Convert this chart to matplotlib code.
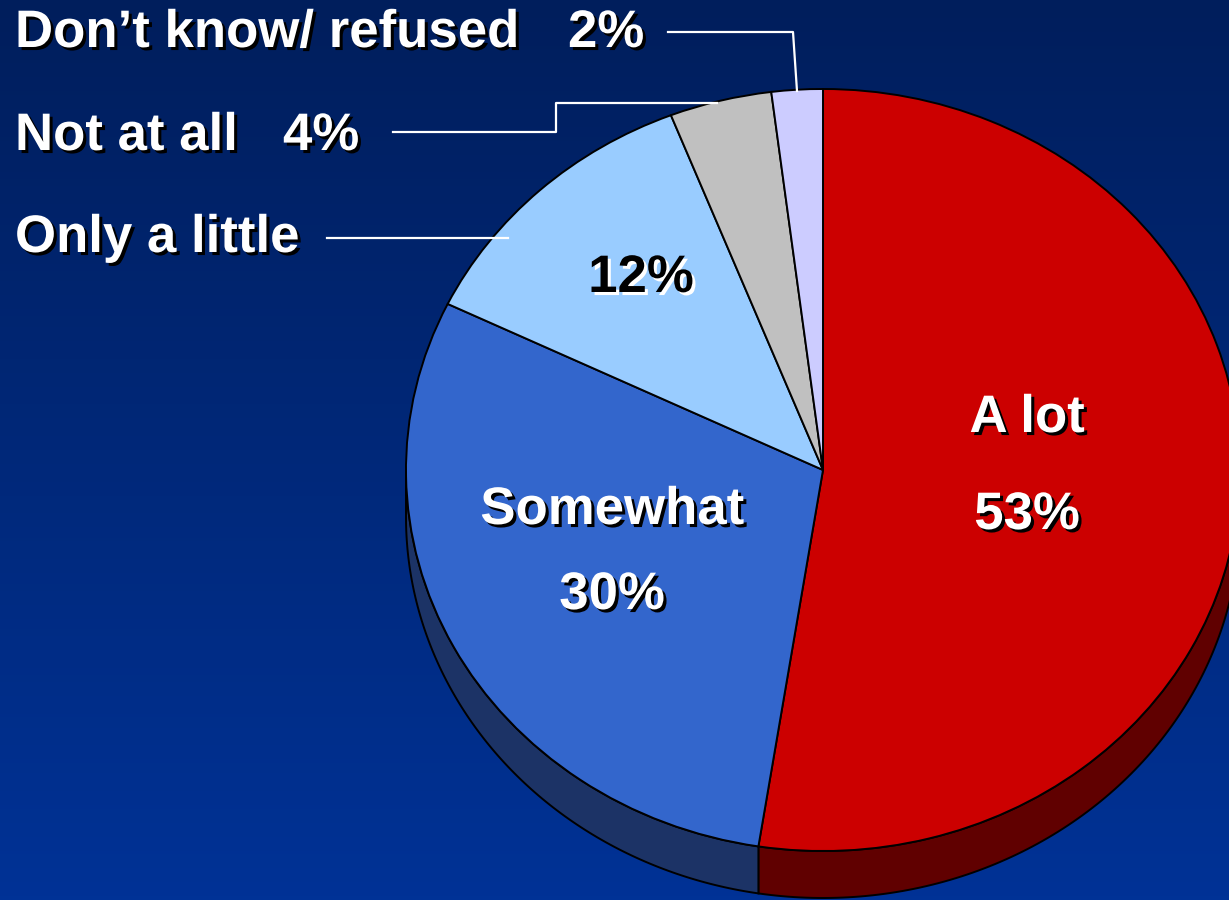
import matplotlib
matplotlib.use("Agg")
import matplotlib.pyplot as plt
import matplotlib.patheffects as pe
import numpy as np

labels = ["A lot", "Somewhat", "Only a little", "Not at all", "Don\u2019t know/ refused"]
values = [53, 30, 12, 4, 2]
top_colors = ["#CC0000", "#3366CC", "#99CCFF", "#C0C0C0", "#CCCCFF"]
side_colors = ["#600000", "#1C3366", "#5A7AA0", "#707070", "#7070A0"]

W, H = 1229, 900
CX, CY, RX, RY = 823, 470, 417, 381   # pie centre / radii in pixels
DEPTH = 47 / RY                        # thickness of the 3d rim in data units

plt.rcParams["font.family"] = ["Liberation Sans", "DejaVu Sans"]

fig = plt.figure(figsize=(W / 100, H / 100), dpi=100)
ax = fig.add_axes([0, 0, 1, 1])


def px(x, y):
    # image pixel (top-left origin) -> data coords of the unit pie
    return (x - CX) / RX, (CY - y) / RY


x0, y1 = px(0, 0)
x1, y0 = px(W, H)

# background gradient
grad = np.linspace(0, 1, 256).reshape(-1, 1)
top = np.array([0, 30, 92]) / 255
bot = np.array([0, 50, 150]) / 255
img = top + (bot - top) * grad[..., None]
ax.imshow(img, extent=[x0, x1, y0, y1], aspect="auto", zorder=0)

# top face
wedges, _ = ax.pie(values, colors=top_colors, startangle=90, counterclock=False,
                   radius=1, center=(0, 0),
                   wedgeprops=dict(edgecolor="black", linewidth=1.4))
for w in wedges:
    w.set_zorder(3)

# rim (only the lower half is visible)
for w, c in zip(wedges, side_colors):
    a, b = w.theta1 % 360, w.theta2 % 360
    if b <= a:
        b += 360
    lo, hi = max(a, 180), min(b, 360)
    if hi <= lo:
        continue
    t = np.radians(np.linspace(lo, hi, 120))
    xs = np.concatenate([np.cos(t), np.cos(t[::-1])])
    ys = np.concatenate([np.sin(t), np.sin(t[::-1]) - DEPTH])
    ax.fill(xs, ys, facecolor=c, edgecolor="black", linewidth=1.4, zorder=2)

ax.set_aspect("auto")
ax.set_xlim(x0, x1)
ax.set_ylim(y0, y1)
ax.axis("off")

shadow_dark = [pe.SimplePatchShadow(offset=(2.2, -2.2), shadow_rgbFace="black", alpha=1), pe.Normal()]
shadow_light = [pe.SimplePatchShadow(offset=(2.2, -2.2), shadow_rgbFace="white", alpha=1), pe.Normal()]
fs = 38


def label(x, y, s, ha="left", color="white", effects=shadow_dark):
    ax.text(*px(x, y), s, ha=ha, va="center", fontsize=fs, fontweight="bold",
            color=color, path_effects=effects, zorder=5)


# outside labels
label(15, 33, labels[4])
label(568, 33, f"{values[4]}%")
label(15, 136, labels[3])
label(283, 136, f"{values[3]}%")
label(15, 238, labels[2])

# leader lines
lw = 1.6
ax.plot(*zip(px(668, 32), px(793, 32), px(797, 91)), color="white", lw=lw, zorder=4)
ax.plot(*zip(px(393, 132), px(556, 132), px(556, 103), px(717, 103)), color="white", lw=lw, zorder=4)
ax.plot(*zip(px(327, 238), px(508, 238)), color="white", lw=lw, zorder=4)

# inside labels
label(641, 278, f"{values[2]}%", ha="center", color="black", effects=shadow_light)
label(612, 510, labels[1], ha="center")
label(612, 595, f"{values[1]}%", ha="center")
label(1027, 418, labels[0], ha="center")
label(1027, 515, f"{values[0]}%", ha="center")

fig.savefig("out.png", dpi=100)
